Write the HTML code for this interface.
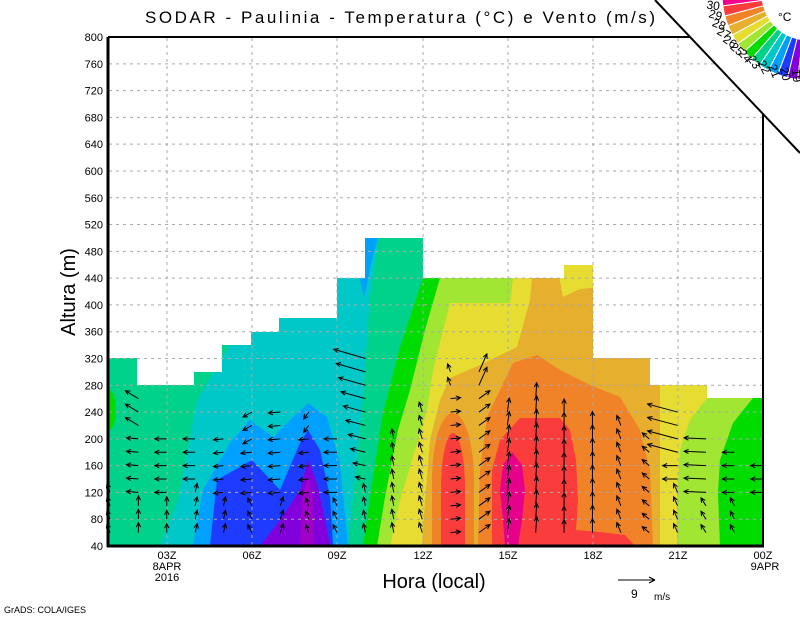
<!DOCTYPE html>
<html><head><meta charset="utf-8"><style>
html,body{margin:0;padding:0;background:#fff;}
svg{display:block;font-family:"Liberation Sans",sans-serif;}
</style></head><body>
<svg id="s" width="800" height="618" viewBox="0 0 800 618" xmlns="http://www.w3.org/2000/svg">
<defs>
<clipPath id="dc"><path d="M109,546 L109,358 L137,358 L137,385 L194,385 L194,372 L222,372 L222,345 L251,345 L251,332 L279,332 L279,318 L337,318 L337,278 L365,278 L365,238 L423,238 L423,278 L564,278 L564,265 L593,265 L593,358 L650,358 L650,385 L707,385 L707,398 L763,398 L763,546 Z"/></clipPath>
</defs>
<rect width="800" height="618" fill="#fff"/>
<g clip-path="url(#dc)">
<rect x="100" y="220" width="700" height="340" fill="#00d28c"/>
<ellipse cx="109" cy="410" rx="7" ry="20" fill="#00dc00"/>
<polygon fill="#00c8c8" points="160,546 178,500 197,400 227,350 227,230 380,230 370,297 363,397 353,497 348,546"/>
<polygon fill="#00a0ff" points="193,546 203,490 230,443 250,420 273,437 287,423 308,403 327,417 340,463 348,546"/>
<polygon fill="#00a0ff" points="365,230 380,230 372,260 364,298 358,270 365,255"/>
<polygon fill="#1e3cff" points="210,546 217,480 252,460 280,490 300,443 308,430 320,450 330,497 333,546"/>
<polygon fill="#8200dc" points="260,546 280,520 300,490 308,460 317,483 327,530 330,546"/>
<polygon fill="#a000c8" points="300,546 302,500 308,475 313,500 314,546"/>
<polygon fill="#00dc00" points="363,546 370,497 383,413 400,347 423,278 423,230 800,230 800,546"/>
<polygon fill="#a0e632" points="377,546 385,497 398,430 410,390 425,330 440,278 440,230 760,230 753,398 733,423 720,460 718,493 720,546"/>
<polygon fill="#e6dc32" points="390,546 400,500 415,450 427,410 433,370 450,303 510,303 513,278 513,230 700,230 707,398 690,420 680,450 677,500 677,546"/>
<polygon fill="#e6af2d" points="422,546 425,500 430,440 440,400 450,378 480,365 517,347 530,300 532,278 532,230 550,230 563,297 580,289 600,287 660,287 660,546"/>
<polygon fill="#f08228" points="478,546 480,470 487,417 513,363 537,355 560,370 590,385 620,397 640,430 650,470 653,546"/>
<path fill="#f08228" d="M432,546 L432,480 A21,67 0 0 1 474,480 L474,546 Z"/>
<path fill="#fa3c3c" d="M441,546 L441,490 A12,57 0 0 1 465,490 L465,546 Z"/>
<polygon fill="#fa3c3c" points="492,546 492,470 500,440 520,418 560,418 570,430 576,460 578,500 576,530 600,532 625,535 635,546"/>
<polygon fill="#e6008a" points="505,546 503,520 500,490 503,465 512,452 522,465 525,490 522,520 518,546"/>
</g>
<g id="grid" stroke="#aaa" stroke-width="1" stroke-dasharray="3,4"></g>
<g id="arrows" stroke="#000" stroke-width="1" fill="none"></g>
<g stroke="#000" fill="none">
<line x1="108" y1="37" x2="108" y2="547" stroke-width="3"/>
<line x1="107" y1="546" x2="764" y2="546" stroke-width="3"/>
<line x1="108" y1="37" x2="700" y2="37" stroke-width="2"/>
<line x1="763" y1="100" x2="763" y2="546" stroke-width="2"/>
</g>
<polygon points="655,0 800,0 800,153" fill="#fff"/>
<line x1="655" y1="0" x2="800" y2="153" stroke="#000" stroke-width="2"/>
<g id="fan"></g>
<text x="778" y="21" font-size="12">°C</text>
<g id="ylab" font-size="11" text-anchor="end"></g>
<g font-size="11" text-anchor="middle">
<text x="167" y="559">03Z</text><text x="167" y="570">8APR</text><text x="167" y="581">2016</text>
<text x="252" y="559">06Z</text><text x="337" y="559">09Z</text><text x="423" y="559">12Z</text>
<text x="508" y="559">15Z</text><text x="593" y="559">18Z</text><text x="678" y="559">21Z</text>
<text x="763" y="559">00Z</text><text x="765" y="570">9APR</text>
</g>
<text x="400" y="23" font-size="17" text-anchor="middle" textLength="510" lengthAdjust="spacing">SODAR - Paulinia - Temperatura (°C) e Vento (m/s)</text>
<text transform="translate(75,292) rotate(-90)" font-size="20" text-anchor="middle">Altura (m)</text>
<text x="434" y="588" font-size="20" text-anchor="middle">Hora (local)</text>
<line x1="618" y1="580" x2="655" y2="580" stroke="#000"/>
<path d="M655,580 L649,577 M655,580 L649,583" stroke="#000"/>
<text x="631" y="598" font-size="12">9</text>
<text x="654" y="600" font-size="10">m/s</text>
<text x="4" y="613" font-size="9">GrADS: COLA/IGES</text>
</svg>
<script>
var NS="http://www.w3.org/2000/svg";
function el(p,t,a){var e=document.createElementNS(NS,t);for(var k in a)e.setAttribute(k,a[k]);p.appendChild(e);return e;}
function Y(m){return 546-(m-40)*0.6697;}
var g=document.getElementById('grid'),yl=document.getElementById('ylab');
for(var m=40;m<=800;m+=40){var y=Y(m);if(m>40&&m<800)el(g,'line',{x1:109,y1:y,x2:763,y2:y});var t=el(yl,'text',{x:103,y:y+4});t.textContent=m;}
[167,252,337,423,508,593,678].forEach(function(x){el(g,'line',{x1:x,y1:38,x2:x,y2:545});});
var A=document.getElementById('arrows');
function arrow(x,y,dx,dy){var L=Math.sqrt(dx*dx+dy*dy);if(L<1)return;var ex=x+dx,ey=y+dy,ux=dx/L,uy=dy/L,h=5,c=Math.cos(0.45),s=Math.sin(0.45);
var d='M'+x+','+y+' L'+ex+','+ey+' M'+(ex-h*(ux*c-uy*s))+','+(ey-h*(uy*c+ux*s))+' L'+ex+','+ey+' L'+(ex-h*(ux*c+uy*s))+','+(ey-h*(uy*c-ux*s));el(A,'path',{d:d});}
var cols={
1:[120,function(m){return[-3,-9]}],
2:[260,function(m){return m<=100?[0,-10]:m<=200?[-12,-1]:[-13,-8]}],
3:[200,function(m){return m<=100?[0,-9]:[-12,0]}],
4:[200,function(m){return m<=120?[2,-9]:[-12,0]}],
5:[200,function(m){return m<=100?[2,-9]:[-10,1]}],
6:[240,function(m){return m<=100?[-4,-8]:m<=180?[-11,1]:[-9,5]}],
7:[240,function(m){return m<=100?[3,-9]:[-12,1]}],
8:[240,function(m){return m<=100?[-3,-8]:m<=200?[-10,1]:[-5,7]}],
9:[200,function(m){return m<=100?[-4,-8]:[-13,0]}],
10:[320,function(m){return m<=120?[-2,-9]:[-(10+(m-140)*0.12),-(2+(m-140)*0.04)]}],
11:[200,function(m){return[-2,-10]}],
12:[240,function(m){return[-3,-10]}],
13:[300,function(m){return m>=280?[-3,-8]:[10,-1]}],
14:[300,function(m){return m>=280?[8,-18]:[11,-8]}],
15:[240,function(m){return[2,-14]}],
16:[260,function(m){return[1,-16]}],
17:[240,function(m){return[0,-13]}],
18:[220,function(m){return[0,-14]}],
19:[220,function(m){return[-4,-10]}],
20:[200,function(m){return[-7,-6]}],
21:[240,function(m){return m>=180?[-30,-8]:m>=140?[-15,0]:[-4,-9]}],
22:[200,function(m){return m>=120?[-22,-1]:[-5,-8]}],
23:[180,function(m){return m>=120?[-12,0]:[-4,-8]}],
24:[160,function(m){return m>=120?[-12,0]:null}]};
for(var h=1;h<=24;h++){var c=cols[h],x=110+(h-1)*28.38;for(var m=60;m<=c[0];m+=20){var v=c[1](m);if(v)arrow(x,Y(m),v[0],v[1]);}}
var F=document.getElementById('fan');
var colors=["#f0008c","#fa3c3c","#f08228","#e6af2d","#e6dc32","#a0e632","#00dc00","#00d28c","#00c8c8","#00a0ff","#1e3cff","#8200dc","#a000c8"];
var cx=808,cy=-6,r1=46,r2=86,n=13,a0s=0.02,span=1.55;
function P(r,t){return[cx-r*Math.cos(t),cy+r*Math.sin(t)];}
for(var i=0;i<n;i++){var a0=a0s+i*span/n,a1=a0s+(i+1)*span/n;var p1=P(r2,a0),p2=P(r2,a1),p3=P(r1,a1),p4=P(r1,a0);
el(F,'path',{d:'M'+p1+' A'+r2+','+r2+' 0 0 0 '+p2+' L'+p3+' A'+r1+','+r1+' 0 0 1 '+p4+' Z',fill:colors[i],stroke:'#fff','stroke-width':1});}
var labs=[30,29,28,27,26,25,24,23,22,21,20,19];
for(var i=0;i<12;i++){var a=a0s+(i+1)*span/n,p=P(r2+3,a);var t=el(F,'text',{x:p[0],y:p[1]+4,'font-size':12,'text-anchor':'end',transform:'rotate('+(a*180/Math.PI)+','+p[0]+','+p[1]+')'});t.textContent=labs[i];}
</script>
</body></html>
